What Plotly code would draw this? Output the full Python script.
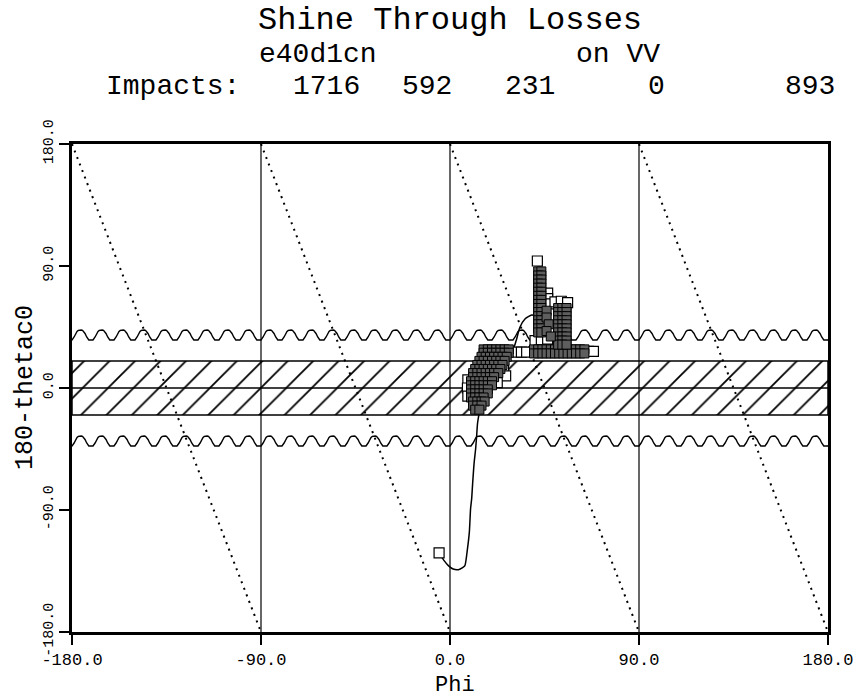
import plotly.graph_objects as go

# ---- axes -------------------------------------------------------------
tick_vals = [-180, -90, 0, 90, 180]
tick_text = ["-180.0", "-90.0", "0.0", "90.0", "180.0"]
grid_phi = [-90, 0, 90]

# ---- aperture band and corrugated limits (degrees) --------------------
band_lo, band_hi = -20.0, 20.0
upper_wave = (35.4, 42.8)
lower_wave = (-42.8, -35.4)
wave_period = 10.0
wave_first_hump = -176.0
# one period of the corrugation outline: (fraction of period, fraction of height)
wave_profile = [(0.00, 0.00), (0.10, 0.00), (0.20, 0.30), (0.28, 0.65), (0.34, 0.85),
                (0.40, 0.96), (0.46, 1.00), (0.54, 1.00), (0.60, 0.96), (0.66, 0.85),
                (0.72, 0.65), (0.80, 0.30), (0.90, 0.00), (1.00, 0.00)]

# ---- dotted sawtooth: segments from (phi, +180) to (phi + 90, -180) ---
saw_start_phi = [-180, -90, 0, 90]

# ---- particle trajectory ----------------------------------------------
traj_phi = [-5.2, -3.0, -0.8, 1.5, 4.0, 6.0, 7.1, 8.3, 9.2, 9.8, 10.3, 10.8, 11.5,
            12.2, 12.7, 13.2, 16.0, 22.0, 27.0, 30.2, 31.7, 33.3, 35.7, 38.9, 40.5, 41.5]
traj_theta = [-121.7, -127.0, -131.0, -133.5, -134.0, -132.5, -131.0, -118.8, -106.5,
              -89.0, -82.0, -70.0, -55.0, -45.0, -35.0, -25.0, -5.0, 10.0, 20.0, 28.8,
              36.0, 44.8, 50.9, 53.8, 52.9, 50.0]

# ---- impact squares ---------------------------------------------------
# dense clusters given as (theta, [phi, ...]) rows
blob_rows = [
    (28.5, [16, 18, 20, 22, 24, 26, 28]),
    (26.0, [16, 18, 20, 22, 24, 26, 28]),
    (23.0, [15, 17, 19, 21, 23, 25, 27]),
    (20.0, [14, 16, 18, 20, 22, 24, 26]),
    (17.0, [13, 15, 17, 19, 21, 23, 25]),
    (14.0, [12, 14, 16, 18, 20, 22, 24]),
    (11.0, [11, 13, 15, 17, 19, 21, 23]),
    (8.0, [11, 13, 15, 17, 19, 21]),
    (5.0, [10, 12, 14, 16, 18, 20]),
    (2.0, [10, 12, 14, 16, 18, 20]),
    (-1.0, [10, 12, 14, 16, 18]),
    (-4.0, [10, 12, 14, 16, 18]),
    (-7.0, [10, 12, 14, 16]),
    (-10.0, [11, 13, 15, 16.5]),
    (-13.0, [11, 13, 15]),
    (-16.0, [12, 14]),
]
bar_rows = [
    (28.5, [40, 42, 44, 46, 48, 50, 52, 54, 56, 58, 60, 62, 64]),
    (25.5, [40, 42, 44, 46, 48, 50, 52, 54, 56, 58, 60, 62, 64]),
]
column1_rows = [(t, [42.0, 43.5]) for t in
                [86, 83, 80, 77, 74, 71, 68, 65, 62, 59, 56, 53, 50, 47, 44, 41]]
column2_rows = [(t, [51.5, 53.5, 55.5]) for t in
                [59, 56, 53, 50, 47, 44, 41, 38, 35, 32]]
between_pts = [(46.0, 57.0), (46.0, 52.0), (47.0, 47.0), (46.0, 42.0), (48.0, 38.0)]

# isolated / sparse impacts (drawn as open squares)
open_pts = [(-5.2, -121.7), (41.6, 93.7),
            (8.5, 6.0), (8.3, 0.0), (8.5, -6.0), (25.5, 13.0), (26.5, 9.0), (22.5, 4.0),
            (31.5, 26.5), (34.0, 26.5), (36.5, 26.5), (66.0, 27.0), (68.3, 27.0),
            (40.5, 35.0), (43.5, 35.5), (46.5, 36.0),
            (46.5, 70.0), (46.5, 66.0), (47.5, 62.0), (50.0, 63.5), (53.0, 64.0), (56.0, 63.0),
            (45.5, 53.5)]

# ---- header numbers ---------------------------------------------------
impact_counts = ["1716", "592", "231", "0", "893"]


def rows_to_xy(rows):
    xs, ys = [], []
    for theta, phis in rows:
        for p in phis:
            xs.append(p)
            ys.append(theta)
    return xs, ys


def corrugation(lo, hi):
    xs, ys = [], []
    start = wave_first_hump - 0.5 * wave_period - wave_period
    k = 0
    while start + k * wave_period < 180 + wave_period:
        base = start + k * wave_period
        for f, h in wave_profile[:-1]:
            xs.append(base + f * wave_period)
            ys.append(lo + h * (hi - lo))
        k += 1
    return xs, ys


FONT = "Liberation Mono"
fig = go.Figure()

# hatched band
fig.add_trace(go.Scatter(
    x=[-180, 180, 180, -180, -180], y=[band_lo, band_lo, band_hi, band_hi, band_lo],
    mode="lines", fill="toself", fillcolor="rgba(0,0,0,0)",
    fillpattern=dict(shape="/", size=18, solidity=0.1, fgcolor="black",
                     bgcolor="rgba(0,0,0,0)", fgopacity=1),
    line=dict(color="black", width=1.5), hoverinfo="skip", showlegend=False))
fig.add_trace(go.Scatter(x=[-180, 180], y=[0, 0], mode="lines",
                         line=dict(color="black", width=1.5), showlegend=False))

# vertical grid
for g in grid_phi:
    fig.add_trace(go.Scatter(x=[g, g], y=[-180, 180], mode="lines",
                             line=dict(color="black", width=1.2), showlegend=False))

# corrugated limits
for lo, hi in (upper_wave, lower_wave):
    wx, wy = corrugation(lo, hi)
    fig.add_trace(go.Scatter(x=wx, y=wy, mode="lines", line=dict(color="black", width=1.4),
                             showlegend=False))

# dotted sawtooth
for s in saw_start_phi:
    fig.add_trace(go.Scatter(x=[s, s + 90], y=[180, -180], mode="lines",
                             line=dict(color="black", width=2, dash="2px,5px"),
                             showlegend=False))

# trajectory
fig.add_trace(go.Scatter(x=traj_phi, y=traj_theta, mode="lines",
                         line=dict(color="black", width=1.5, shape="spline", smoothing=0.6),
                         showlegend=False))

# impacts
fig.add_trace(go.Scatter(
    x=[p[0] for p in open_pts], y=[p[1] for p in open_pts], mode="markers",
    marker=dict(symbol="square", size=10, color="white", line=dict(color="black", width=1.2)),
    showlegend=False))
for rows in (blob_rows, bar_rows, column1_rows, column2_rows):
    mx, my = rows_to_xy(rows)
    fig.add_trace(go.Scatter(
        x=mx, y=my, mode="markers",
        marker=dict(symbol="square", size=9, color="#5e5e5e", line=dict(color="black", width=1)),
        showlegend=False))
fig.add_trace(go.Scatter(
    x=[p[0] for p in between_pts], y=[p[1] for p in between_pts], mode="markers",
    marker=dict(symbol="square", size=9, color="#5e5e5e", line=dict(color="black", width=1)),
    showlegend=False))

W, H = 868, 698
L, R, T, B = 72, 40, 144, 66
PW, PH = W - L - R, H - T - B


def px(x):
    return (x - L) / PW


def py(y):
    return (H - B - y) / PH


ann = []


def text(s, x, y, size, anchor="center", angle=0):
    ann.append(dict(text=s, x=px(x), y=py(y), xref="paper", yref="paper", showarrow=False,
                    xanchor=anchor, yanchor="middle", textangle=angle,
                    font=dict(family=FONT, size=size, color="black")))


text("Shine Through Losses", 450, 20, 32)
text("e40d1cn", 318, 54, 28)
text("on VV", 618, 54, 28)
text("Impacts:", 242, 87, 28, anchor="right")
for s, x in zip(impact_counts, [326, 427, 530, 656, 810]):
    text(s, x, 87, 28)
text("Phi", 455, 685, 22)
text("180-thetac0", 25, 388, 25, angle=-90)

axis_common = dict(range=[-180, 180], tickvals=tick_vals, ticktext=tick_text,
                   ticks="outside", ticklen=10, tickwidth=1.5, tickcolor="black",
                   showline=True, linewidth=3, linecolor="black", mirror=True,
                   showgrid=False, zeroline=False)
fig.update_layout(
    width=W, height=H, margin=dict(l=L, r=R, t=T, b=B),
    paper_bgcolor="white", plot_bgcolor="white",
    xaxis=dict(**axis_common, tickfont=dict(family=FONT, size=17, color="black")),
    yaxis=dict(**axis_common, tickangle=-90, tickfont=dict(family=FONT, size=15, color="black")),
    annotations=ann, showlegend=False)

fig.write_html("out.html")
